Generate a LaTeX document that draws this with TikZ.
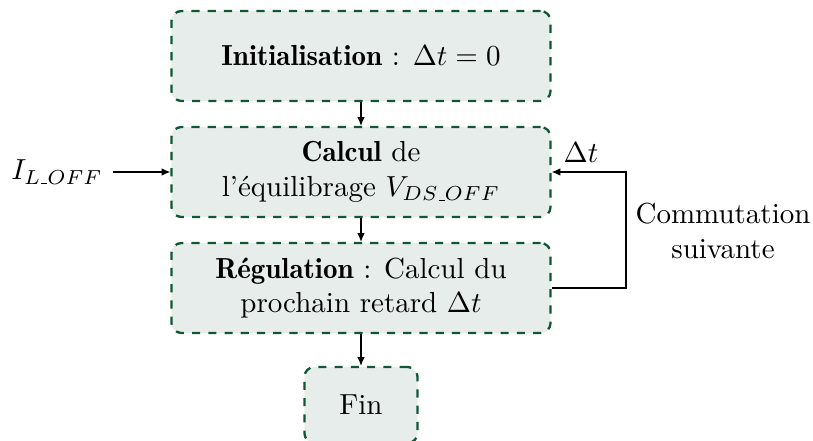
\documentclass[tikz,border=0pt]{standalone}
\usepackage{amsmath}
\usepackage{fontspec}
\newfontface\demifont{lmromandemi10-regular.otf}
\usetikzlibrary{arrows.meta}
\definecolor{boxline}{RGB}{16,88,52}
\definecolor{boxfill}{RGB}{231,237,234}
\newcommand{\usc}{\text{\kern.06em\vbox{\hrule width.3em}}}
\newcommand{\bw}[1]{{\demifont #1}}
\begin{document}
\begin{tikzpicture}[x=0.3448pt,y=-0.3448pt,
  stepbox/.style={draw=boxline,fill=boxfill,line width=0.8pt,dash pattern=on 2.8pt off 2.8pt,
    rounded corners=3.4pt,align=center,inner sep=0pt,minimum width=130.7pt,minimum height=31pt},
  finbox/.style={stepbox,minimum width=39pt,minimum height=26.2pt},
  conn/.style={line width=0.4pt,-{Latex[length=3pt,width=2.6pt]}},
  lbl/.style={align=center,inner sep=0pt}]
\useasboundingbox (0,0) rectangle (813,441);
\node[stepbox] (init) at (361,56) {\bw{Initialisation} : $\Delta t = 0$};
\node[stepbox] (calc) at (361,172) {\bw{Calcul} de\\ l'équilibrage $V_{DS\usc OFF}$};
\node[stepbox] (reg) at (361,288) {\bw{Régulation} : Calcul du\\ prochain retard $\Delta t$};
\node[finbox] (fin) at (361,405) {Fin};
\node[lbl,anchor=base] (il) at (57,180) {$I_{L\usc OFF}$};
\coordinate (ilend) at (113,172);
\coordinate (c1) at (626,288);
\coordinate (c2) at (626,172);
\node[lbl,anchor=base] (dt) at (581,162) {$\Delta t$};
\node[lbl] (comm) at (723,231) {Commutation\\ suivante};
\draw[conn] (init) -- (calc);
\draw[conn] (calc) -- (reg);
\draw[conn] (reg) -- (fin);
\draw[conn] (ilend) -- (calc.west);
\draw[conn] (reg.east) -- (c1) -- (c2) -- (calc.east);
\end{tikzpicture}
\end{document}
